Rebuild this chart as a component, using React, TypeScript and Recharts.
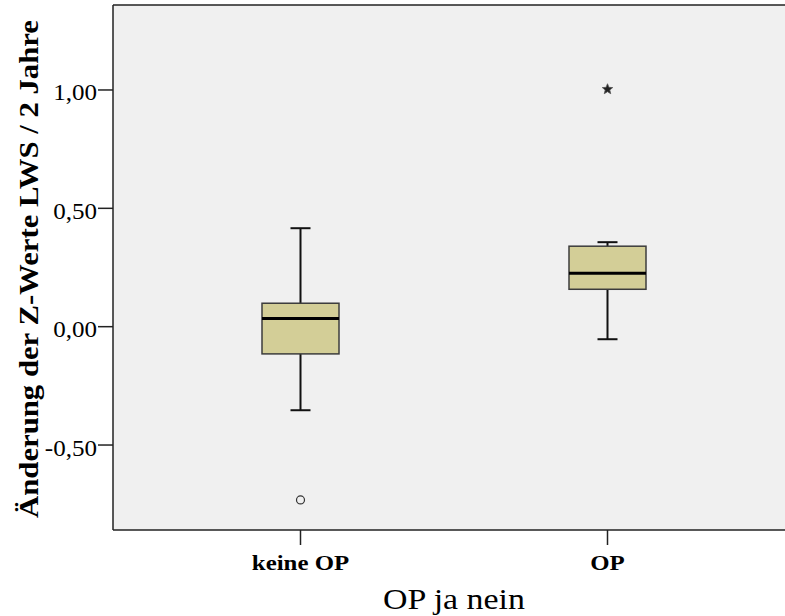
import React from "react";
import {
  Bar,
  CartesianGrid,
  ComposedChart,
  ReferenceLine,
  Scatter,
  XAxis,
  YAxis,
} from "recharts";

// Boxplot: Änderung der Z-Werte LWS / 2 Jahre nach OP-Gruppe
const groups = ["keine OP", "OP"];
const whiskerLow = [-0.353, -0.053];
const q1 = [-0.115, 0.158];
const median = [0.035, 0.226];
const q3 = [0.099, 0.34];
const whiskerHigh = [0.416, 0.357];
const outliers = [-0.732, null];
const extremes = [null, 1.003];
const yTicks = [-0.5, 0, 0.5, 1];
const yDomain = [-0.859, 1.359];

const data = groups.map((g, i) => ({
  group: g,
  range: [whiskerLow[i], whiskerHigh[i]],
  whiskerLow: whiskerLow[i],
  q1: q1[i],
  median: median[i],
  q3: q3[i],
  whiskerHigh: whiskerHigh[i],
  outlier: outliers[i],
  extreme: extremes[i],
}));

const SERIF = "'Liberation Serif', 'DejaVu Serif', serif";
const FRAME = "#222";

const BoxShape = (props: any) => {
  const { x, y, width, height, payload } = props;
  if (!payload) return null;
  const top = Math.min(y, y + height);
  const h = Math.abs(height);
  const lo = payload.whiskerLow;
  const hi = payload.whiskerHigh;
  const py = (v: number) => top + ((hi - v) / (hi - lo)) * h;
  const cx = x + width / 2;
  const cap = 10;
  return (
    <g>
      <line x1={cx} x2={cx} y1={py(hi)} y2={py(payload.q3)} stroke="#111" strokeWidth={2} />
      <line x1={cx} x2={cx} y1={py(payload.q1)} y2={py(lo)} stroke="#111" strokeWidth={2} />
      <line x1={cx - cap} x2={cx + cap} y1={py(hi)} y2={py(hi)} stroke="#111" strokeWidth={2} />
      <line x1={cx - cap} x2={cx + cap} y1={py(lo)} y2={py(lo)} stroke="#111" strokeWidth={2} />
      <rect
        x={x}
        y={py(payload.q3)}
        width={width}
        height={py(payload.q1) - py(payload.q3)}
        fill="#d3ce97"
        stroke="#3c3c3c"
        strokeWidth={1.5}
      />
      <line
        x1={x}
        x2={x + width}
        y1={py(payload.median)}
        y2={py(payload.median)}
        stroke="#000"
        strokeWidth={3}
      />
    </g>
  );
};

const CircleShape = (props: any) => {
  const { cx, cy, payload } = props;
  if (payload == null || payload.outlier == null || !isFinite(cy)) return null;
  return <circle cx={cx} cy={cy} r={4} fill="#f0f0f0" stroke="#333" strokeWidth={1.2} />;
};

const StarShape = (props: any) => {
  const { cx, cy, payload } = props;
  if (payload == null || payload.extreme == null || !isFinite(cy)) return null;
  const pts: string[] = [];
  for (let k = 0; k < 10; k++) {
    const r = k % 2 === 0 ? 5.5 : 2.4;
    const a = -Math.PI / 2 + (k * Math.PI) / 5;
    pts.push(`${cx + r * Math.cos(a)},${cy + r * Math.sin(a)}`);
  }
  return <polygon points={pts.join(" ")} fill="#222" stroke="#555" strokeWidth={0.8} />;
};

const YTick = (props: any) => {
  const { y, payload } = props;
  const label = Number(payload.value).toFixed(2).replace(".", ",");
  return (
    <text
      transform={`translate(97, ${y + 10.5}) scale(1.09, 1)`}
      textAnchor="end"
      fontFamily={SERIF}
      fontSize={23}
      fill="#000"
    >
      {label}
    </text>
  );
};

const XTick = (props: any) => {
  const { x, y, payload } = props;
  return (
    <text
      transform={`translate(${x}, ${y + 23}) scale(1.13, 1)`}
      textAnchor="middle"
      fontFamily={SERIF}
      fontWeight="bold"
      fontSize={22}
      fill="#000"
    >
      {payload.value}
    </text>
  );
};

export default function App() {
  return (
    <div
      style={{
        position: "absolute",
        left: 0,
        top: 0,
        width: 785,
        height: 616,
        overflow: "hidden",
        background: "#fff",
      }}
    >
      <ComposedChart
        width={800}
        height={616}
        data={data}
        margin={{ top: 5, right: 5, bottom: 0, left: 0 }}
      >
        <CartesianGrid fill="#f0f0f0" horizontal={false} vertical={false} />
        <XAxis
          dataKey="group"
          type="category"
          height={86}
          padding={{ left: 34, right: 34 }}
          tickSize={15}
          tickMargin={2}
          tick={<XTick />}
          axisLine={{ stroke: FRAME, strokeWidth: 1.5 }}
          tickLine={{ stroke: FRAME, strokeWidth: 1.5 }}
          label={{
            content: () => (
              <text
                transform="translate(454, 609) scale(1.13, 1)"
                textAnchor="middle"
                fontFamily={SERIF}
                fontSize={30}
                fill="#000"
              >
                OP ja nein
              </text>
            ),
          }}
        />
        <YAxis
          type="number"
          domain={yDomain}
          ticks={yTicks}
          allowDataOverflow
          width={113}
          tickSize={15}
          tickMargin={2}
          tick={<YTick />}
          axisLine={{ stroke: FRAME, strokeWidth: 1.5 }}
          tickLine={{ stroke: FRAME, strokeWidth: 1.5 }}
          label={{
            content: () => (
              <text
                x={38}
                y={269}
                transform="rotate(-90, 38, 269)"
                textAnchor="middle"
                fontFamily={SERIF}
                fontWeight="bold"
                fontSize={27}
                textLength={498}
                lengthAdjust="spacingAndGlyphs"
                fill="#000"
              >
                Änderung der Z-Werte LWS / 2 Jahre
              </text>
            ),
          }}
        />
        <ReferenceLine y={yDomain[1]} stroke={FRAME} strokeWidth={1.5} />
        <Bar dataKey="range" barSize={77} shape={<BoxShape />} isAnimationActive={false} />
        <Scatter dataKey="outlier" shape={<CircleShape />} isAnimationActive={false} />
        <Scatter dataKey="extreme" shape={<StarShape />} isAnimationActive={false} />
      </ComposedChart>
    </div>
  );
}
